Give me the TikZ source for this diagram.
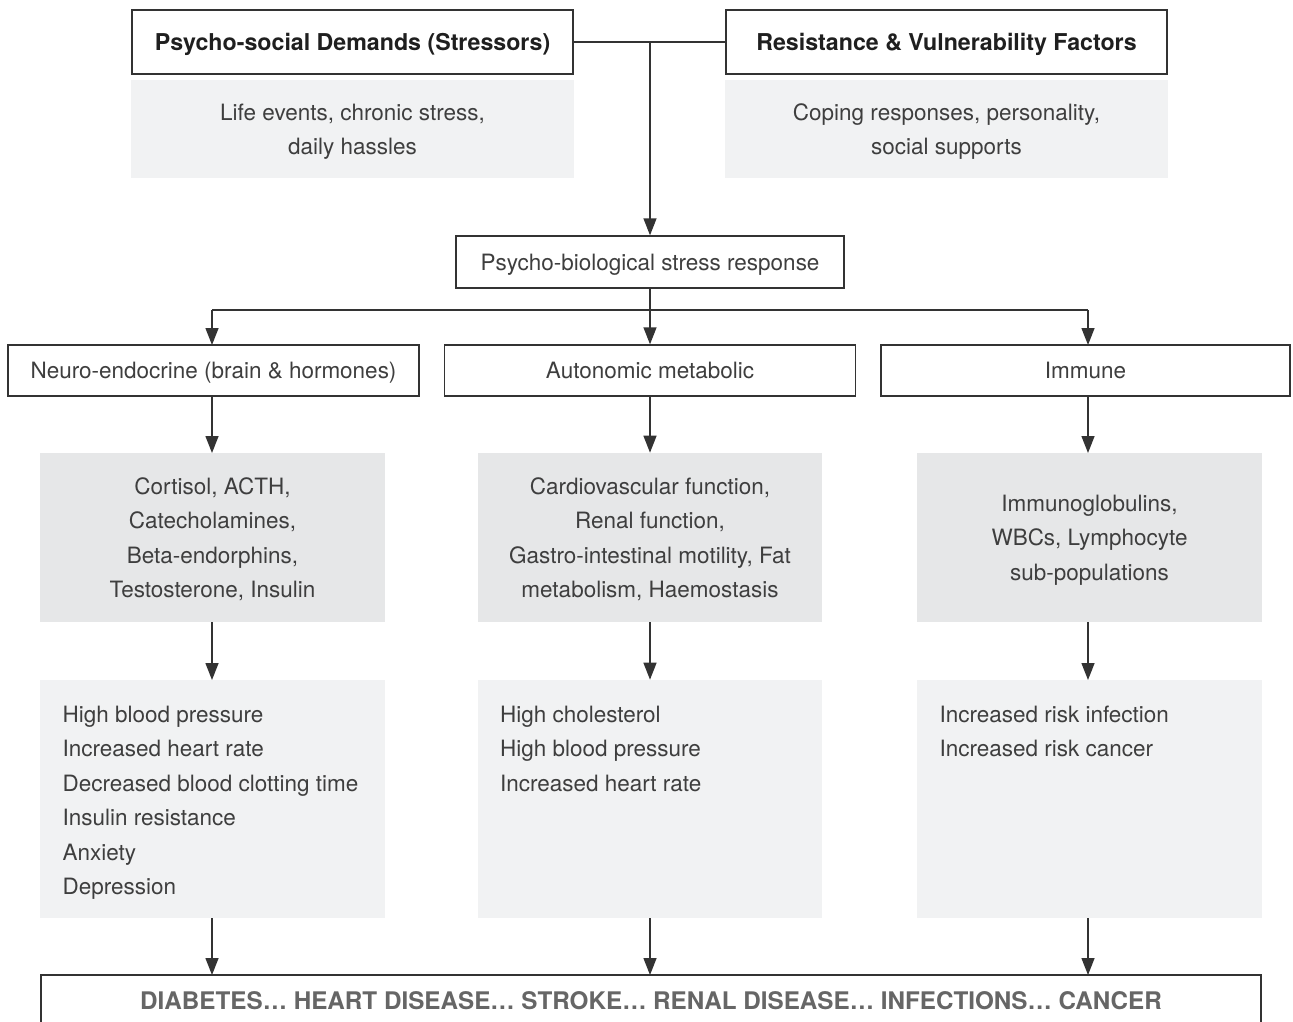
\documentclass[tikz,border=0pt]{standalone}
\usepackage{fontspec}
\setmainfont{TeX Gyre Heros}
\usetikzlibrary{arrows.meta}
\definecolor{boxline}{HTML}{333333}
\definecolor{lighttext}{HTML}{3E3E3E}
\definecolor{paleg}{HTML}{F1F2F3}
\definecolor{midg}{HTML}{E6E7E8}
\definecolor{capsg}{HTML}{666666}

\begin{document}
\begin{tikzpicture}[x=0.02cm,y=-0.02cm,
    font=\fontsize{12.8}{19.6}\selectfont,
    headbox/.style={draw=boxline,line width=0.8pt,fill=white,minimum height=1.28cm,
      minimum width=8.82cm,text depth=0pt,font=\fontsize{13.2}{19.6}\selectfont\bfseries,text=black!88},
    linebox/.style={draw=boxline,line width=0.8pt,fill=white,text=lighttext,inner sep=0pt,text depth=0pt},
    topgray/.style={fill=paleg,minimum width=8.86cm,minimum height=1.96cm,
      text=lighttext,align=center,inner sep=0pt,text depth=0pt},
    midgray/.style={fill=midg,minimum width=6.9cm,minimum height=3.38cm,
      text=lighttext,align=center,inner sep=0pt,text depth=0pt},
    lowgray/.style={fill=paleg,minimum width=6.9cm,minimum height=4.76cm,
      text=lighttext,inner sep=0pt},
    arr/.style={-{Triangle[length=0.34cm,width=0.26cm]},line width=0.8pt,boxline},
    conn/.style={line width=0.8pt,boxline}]
  \useasboundingbox (0,0) rectangle (1293,1021);

  % demands and resistance
  \node[headbox] (demands) at (352.5,42) {Psycho-social Demands (Stressors)};
  \node[topgray] (demandsx) at (352.5,129) {Life events, chronic stress,\\daily hassles};
  \node[headbox] (resist) at (946.5,42) {Resistance \& Vulnerability Factors};
  \node[topgray] (resistx) at (946.5,129) {Coping responses, personality,\\social supports};

  \node[linebox,minimum width=7.76cm,minimum height=1.04cm] (response) at (650,262)
    {Psycho-biological stress response};

  \coordinate (join) at (650,42);
  \coordinate (split) at (650,310);
  \draw[conn] (demands.east) -- (resist.west);
  \draw[arr] (join) -- (response.north);

  % three pathways
  \node[linebox,minimum width=8.22cm,minimum height=1.02cm] (neuro) at (213.5,370.5)
    {Neuro-endocrine (brain \& hormones)};
  \node[linebox,minimum width=8.22cm,minimum height=1.02cm] (auto) at (650,370.5)
    {Autonomic metabolic};
  \node[linebox,minimum width=8.18cm,minimum height=1.02cm] (immune) at (1085.5,370.5)
    {Immune};

  \draw[conn] (response.south) -- (split);
  \draw[conn] (212,310) -- (1088,310);
  \draw[arr] (212,310) -- (212,345);
  \draw[arr] (split) -- (auto.north);
  \draw[arr] (1088,310) -- (1088,345);

  % mediators
  \node[midgray] (neurom) at (212.5,537.5)
    {Cortisol, ACTH,\\Catecholamines,\\Beta-endorphins,\\Testosterone, Insulin};
  \node[midgray] (autom) at (650,537.5)
    {Cardiovascular function,\\Renal function,\\Gastro-intestinal motility, Fat\\metabolism, Haemostasis};
  \node[midgray] (immunem) at (1089.5,537.5)
    {Immunoglobulins,\\WBCs, Lymphocyte\\sub-populations};

  \draw[arr] (212,396) -- (212,453);
  \draw[arr] (auto.south) -- (autom.north);
  \draw[arr] (1088,396) -- (1088,453);

  % risk factors
  \node[lowgray] (neuror) at (212.5,799)
    {\parbox[t][3.72cm][t]{6.0cm}{High blood pressure\\Increased heart rate\\Decreased blood clotting time\\Insulin resistance\\Anxiety\\Depression}};
  \node[lowgray] (autor) at (650,799)
    {\parbox[t][3.72cm][t]{6.0cm}{High cholesterol\\High blood pressure\\Increased heart rate}};
  \node[lowgray] (immuner) at (1089.5,799)
    {\parbox[t][3.72cm][t]{6.0cm}{Increased risk infection\\Increased risk cancer}};

  \draw[arr] (212,622) -- (212,680);
  \draw[arr] (autom.south) -- (autor.north);
  \draw[arr] (1088,622) -- (1088,680);

  % outcomes
  \node[draw=boxline,line width=0.8pt,fill=white,minimum width=24.4cm,minimum height=1.0cm,
    text=capsg,text depth=0pt,font=\fontsize{13.8}{16}\selectfont\bfseries] (disease) at (651,1000)
    {DIABETES… HEART DISEASE… STROKE… RENAL DISEASE… INFECTIONS… CANCER};

  \draw[arr] (212,918) -- (212,975);
  \draw[arr] (autor.south) -- (650,975);
  \draw[arr] (1088,918) -- (1088,975);
\end{tikzpicture}
\end{document}
